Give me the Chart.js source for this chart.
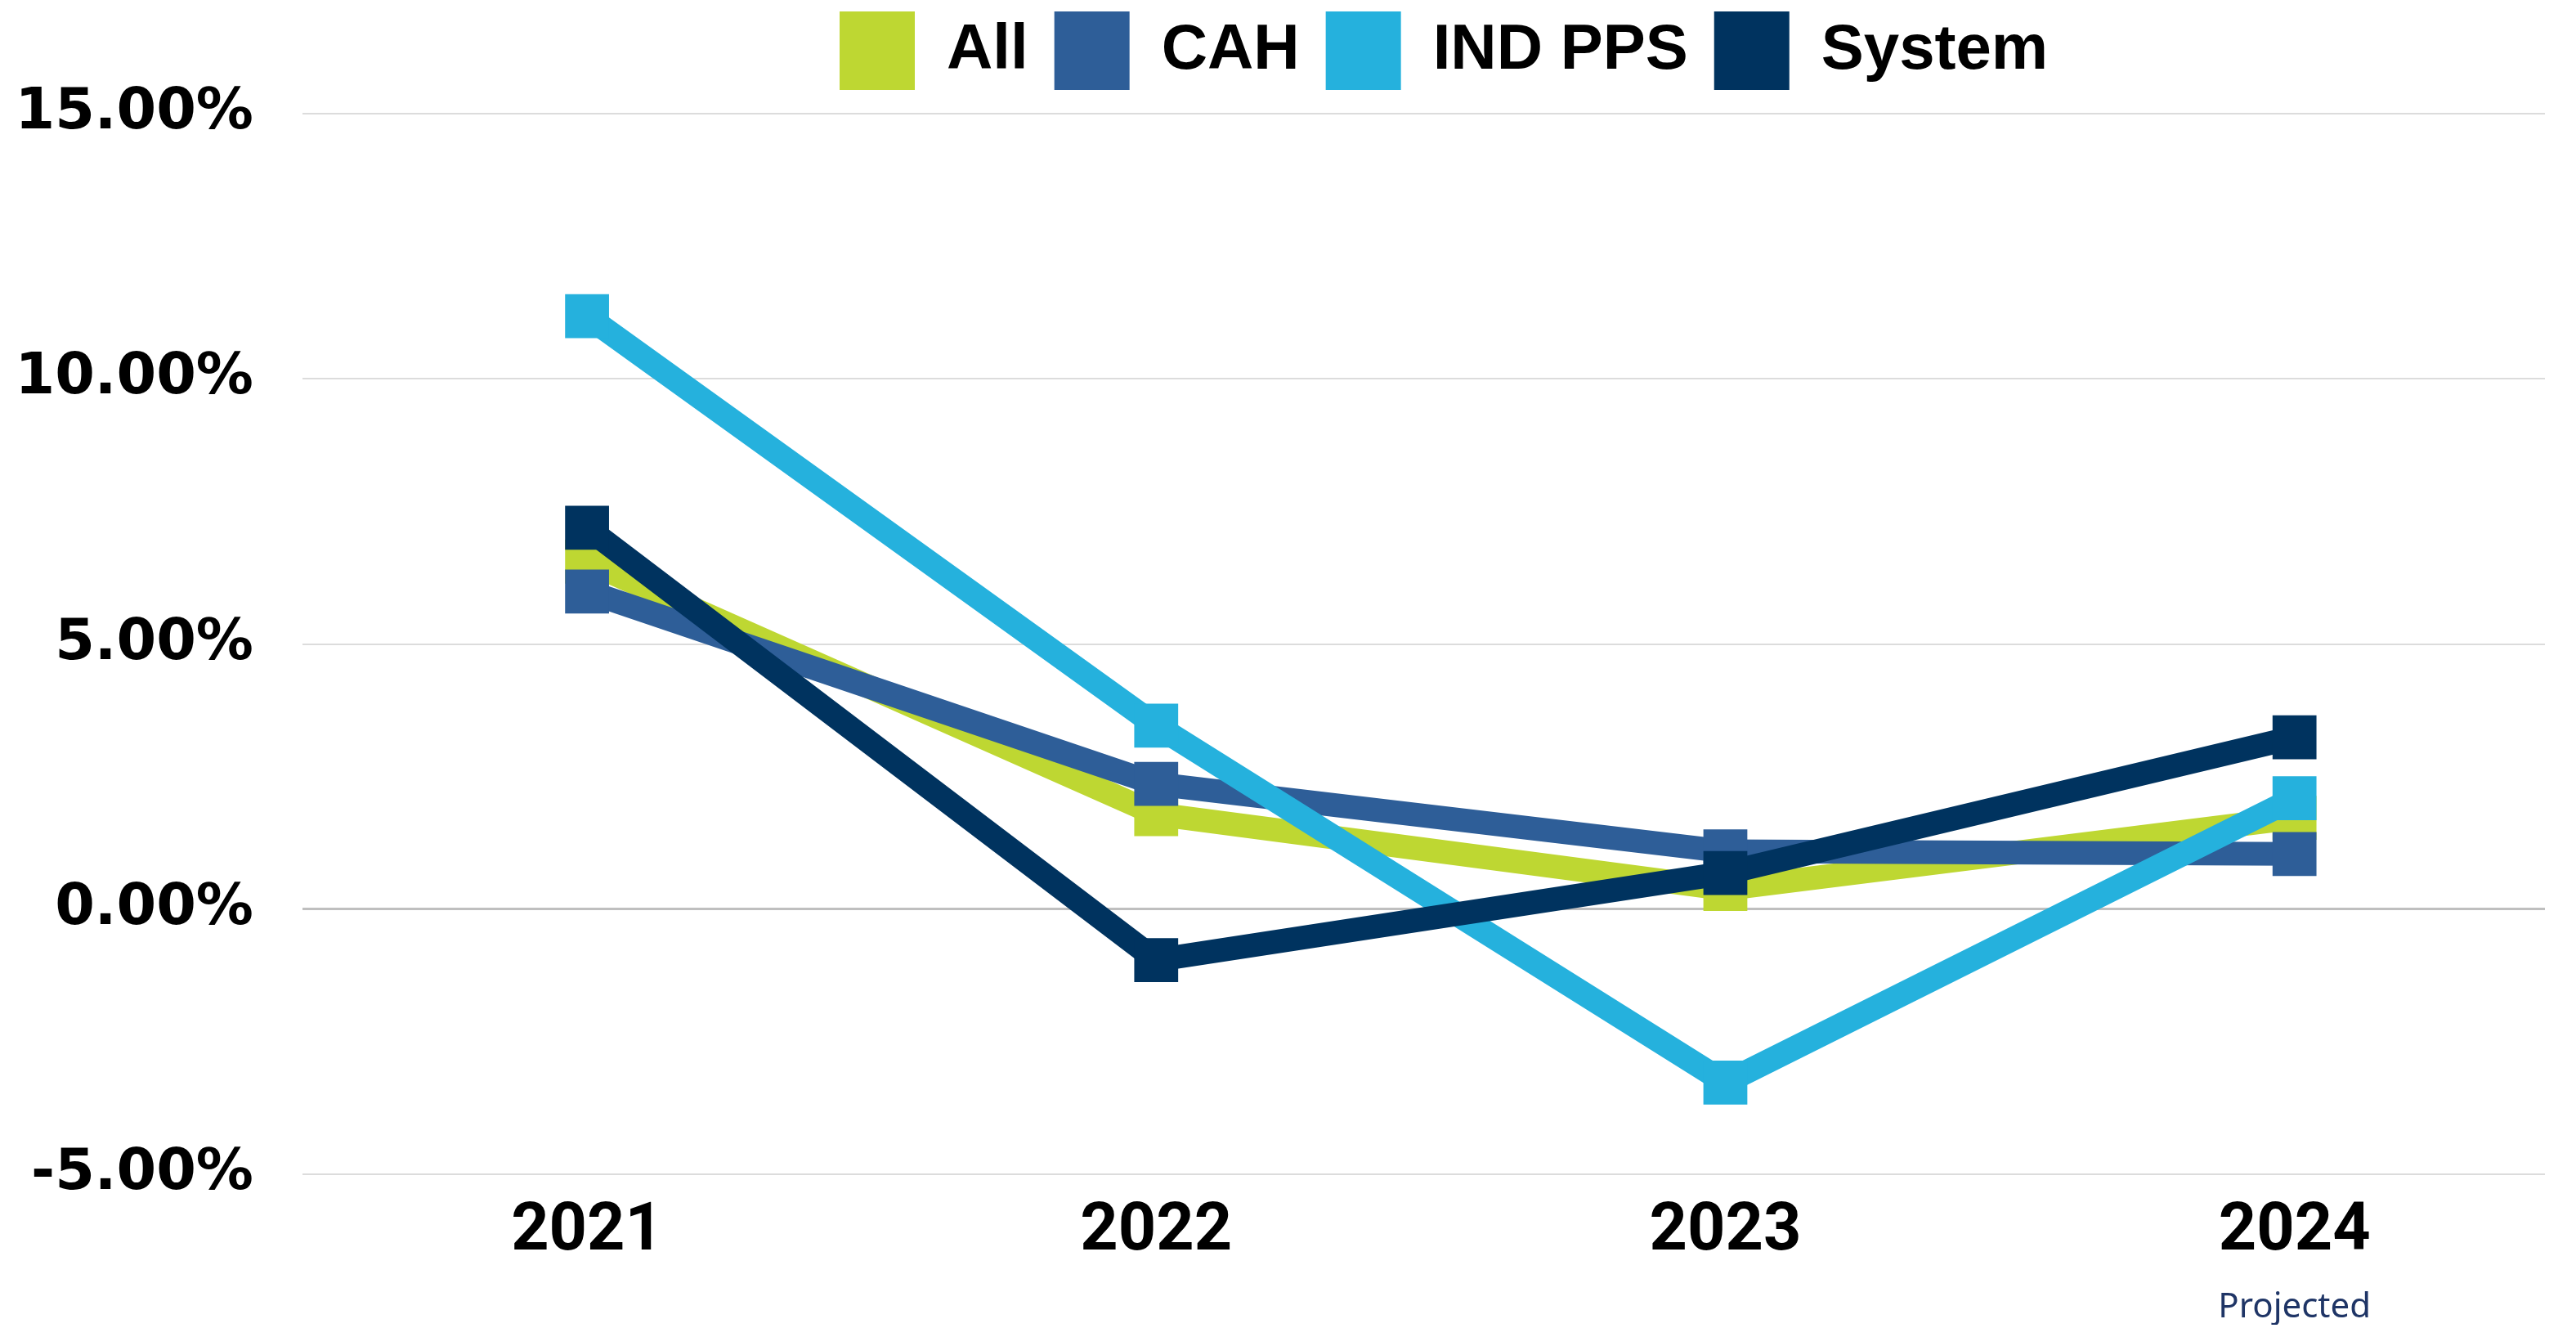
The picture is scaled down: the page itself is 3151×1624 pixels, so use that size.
<!DOCTYPE html>
<html>
<head>
<meta charset="utf-8">
<script src="https://cdn.jsdelivr.net/npm/chart.js@4.4.1/dist/chart.umd.min.js"></script>
<style>
  html, body { margin: 0; padding: 0; background: #ffffff; }
  #wrap { width: 3151px; height: 1624px; position: relative; }
</style>
</head>
<body>
<div id="wrap"><canvas id="c"></canvas></div>
<script>
// ---- data ----
const categories = ['2021', '2022', '2023', '2024'];
const subLabels = ['', '', '', 'Projected'];
const seriesNames = ['All', 'CAH', 'IND PPS', 'System'];
const allValues = [6.55, 1.79, 0.38, 1.72];
const cahValues = [5.99, 2.36, 1.09, 1.04];
const indPpsValues = [11.18, 3.46, -3.27, 2.09];
const systemValues = [7.19, -0.96, 0.68, 3.24];
const yTicks = [-5, 0, 5, 10, 15];
const seriesColors = ['#BED732', '#2E5E98', '#25B1DD', '#00335F'];

const seriesValues = [allValues, cahValues, indPpsValues, systemValues];

const datasets = seriesNames.map((name, s) => ({
  label: name,
  data: seriesValues[s].map((v, i) => ({ x: i, y: v })),
  order: seriesNames.length - s,
  borderColor: seriesColors[s],
  backgroundColor: seriesColors[s],
  borderWidth: 29,
  pointStyle: 'rect',
  pointRadius: 38,
  pointBorderWidth: 0,
  pointBackgroundColor: seriesColors[s],
  pointBorderColor: seriesColors[s],
  tension: 0,
  fill: false
}));

const legendTweak = {
  id: 'legendTweak',
  beforeInit(chart) {
    const origFit = chart.legend.fit;
    chart.legend.fit = function () {
      origFit.call(this);
      this.height = 139;
    };
  },
  afterLayout(chart) {
    const lg = chart.legend;
    if (!lg || !lg.lineWidths) return;
    const pad = lg.options.labels.padding;
    const start = (lg.left + pad + lg.right - lg.lineWidths[0]) / 2;
    const dx = 1027 - start;
    lg.left += dx;
    lg.right += dx;
    lg.top += 14 - pad;
  }
};

const tickSetter = (scale) => {
  scale.ticks = categories.map((c, i) => ({ value: i }));
};

new Chart(document.getElementById('c'), {
  type: 'line',
  data: { datasets },
  plugins: [legendTweak],
  options: {
    responsive: true,
    maintainAspectRatio: false,
    animation: false,
    devicePixelRatio: 1,
    layout: { padding: { left: 0, right: 32, top: 0, bottom: 4 } },
    plugins: {
      tooltip: { enabled: false },
      legend: {
        display: true,
        position: 'top',
        align: 'center',
        labels: {
          boxWidth: 92,
          boxHeight: 96,
          padding: 32,
          color: '#000000',
          font: { family: '"Liberation Sans", Arial, sans-serif', size: 78, weight: 'bold' },
          sort: (a, b) => a.datasetIndex - b.datasetIndex,
          generateLabels(chart) {
            return Chart.defaults.plugins.legend.labels.generateLabels(chart).map(l => ({
              ...l, lineWidth: 0, fillStyle: seriesColors[l.datasetIndex], strokeStyle: seriesColors[l.datasetIndex]
            }));
          }
        }
      }
    },
    scales: {
      x: {
        type: 'linear',
        position: 'bottom',
        weight: 0,
        min: -0.5,
        max: 3.44,
        afterBuildTicks: tickSetter,
        afterFit(scale) { scale.height = 111; },
        grid: { display: false, drawTicks: false },
        border: { display: false },
        ticks: {
          padding: 31,
          color: '#000000',
          maxRotation: 0,
          autoSkip: false,
          font: { family: 'Roboto, sans-serif', size: 81, weight: 'bold', lineHeight: 1 },
          callback: (v) => categories[v] !== undefined ? categories[v] : ''
        }
      },
      x2: {
        type: 'linear',
        position: 'bottom',
        weight: 1,
        min: -0.5,
        max: 3.44,
        afterBuildTicks: tickSetter,
        afterFit(scale) { scale.height = 73; },
        grid: { display: false, drawTicks: false },
        border: { display: false },
        ticks: {
          padding: 31,
          color: '#1F3566',
          maxRotation: 0,
          autoSkip: false,
          font: { family: '"Noto Sans", sans-serif', size: 42, weight: 'normal', lineHeight: 1 },
          callback: (v) => subLabels[v] !== undefined ? subLabels[v] : ''
        }
      },
      y: {
        type: 'linear',
        min: -5,
        max: 15,
        afterBuildTicks(scale) { scale.ticks = yTicks.map(v => ({ value: v })); },
        afterFit(scale) { scale.width = 370; },
        grid: {
          drawTicks: false,
          color: (ctx) => (ctx.tick && ctx.tick.value === 0) ? '#BFBFBF' : '#DCDCDC',
          lineWidth: (ctx) => (ctx.tick && ctx.tick.value === 0) ? 3 : 2
        },
        border: { display: false },
        ticks: {
          padding: 60,
          color: '#000000',
          font: { family: '"DejaVu Sans", sans-serif', size: 70, weight: 'bold' },
          callback: (v) => v.toFixed(2) + '%'
        }
      }
    }
  }
});
</script>
</body>
</html>
